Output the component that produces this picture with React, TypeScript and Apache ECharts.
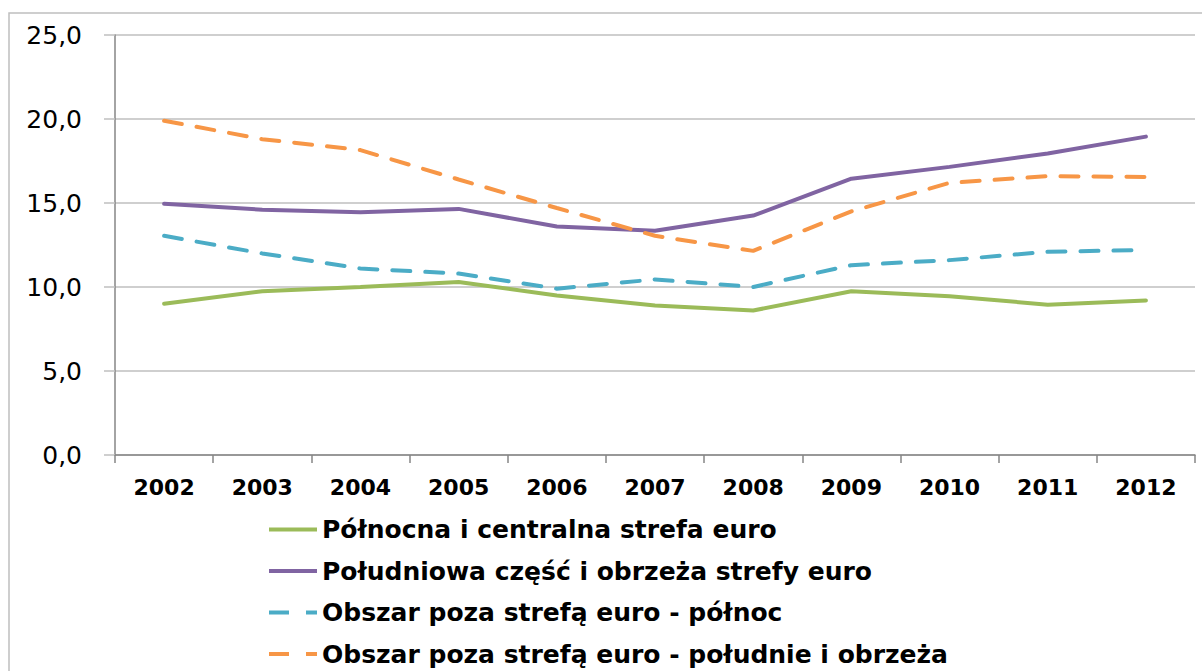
import React, { useEffect, useRef } from "react";
import * as echarts from "echarts";

const years = ["2002", "2003", "2004", "2005", "2006", "2007", "2008", "2009", "2010", "2011", "2012"];
const seriesNames = [
  "Północna i centralna strefa euro",
  "Południowa część i obrzeża strefy euro",
  "Obszar poza strefą euro - północ",
  "Obszar poza strefą euro - południe i obrzeża",
];
const northCentral = [9.0, 9.75, 10.0, 10.3, 9.5, 8.9, 8.6, 9.75, 9.45, 8.95, 9.2];
const southPeriphery = [14.95, 14.6, 14.45, 14.65, 13.6, 13.35, 14.25, 16.45, 17.15, 17.95, 18.95];
const outsideNorth = [13.05, 12.0, 11.1, 10.8, 9.9, 10.45, 10.0, 11.3, 11.6, 12.1, 12.2];
const outsideSouth = [19.9, 18.8, 18.15, 16.4, 14.7, 13.05, 12.15, 14.5, 16.2, 16.6, 16.55];
const colors = ["#9BBB59", "#8064A2", "#4BACC6", "#F79646"];
const dashed = [false, false, true, true];

const solidIcon = "path://M0,0h48v4h-48z";
const dashIcon = "path://M0,0h20v4h-20z M37,0h11v4h-11z";

export default function App() {
  const ref = useRef<HTMLDivElement>(null);
  useEffect(() => {
    if (!ref.current) return;
    const chart = echarts.init(ref.current, undefined, { renderer: "svg" });
    const data = [northCentral, southPeriphery, outsideNorth, outsideSouth];
    chart.setOption({
      animation: false,
      grid: { left: 115, right: 7, top: 35, bottom: 216, containLabel: false },
      graphic: [
        {
          type: "rect",
          shape: { x: 9, y: 13, width: 1200, height: 700 },
          style: { fill: "none", stroke: "#BFBFBF", lineWidth: 1.5 },
          silent: true,
        },
      ],
      legend: {
        orient: "vertical",
        left: 269,
        top: 516,
        itemWidth: 48,
        itemHeight: 14,
        itemGap: 14.5,
        padding: 0,
        data: seriesNames.map((name, i) => ({ name, icon: dashed[i] ? dashIcon : solidIcon })),
        textStyle: {
          fontFamily: "DejaVu Sans",
          fontWeight: "bold",
          fontSize: 25,
          color: "#000",
          lineHeight: 27,
        },
      },
      xAxis: {
        type: "category",
        data: years,
        boundaryGap: true,
        axisLine: { lineStyle: { color: "#868686", width: 1.5 } },
        axisTick: { show: true, length: 8, lineStyle: { color: "#868686", width: 1.5 } },
        axisLabel: {
          margin: 21,
          fontFamily: "DejaVu Sans",
          fontWeight: "bold",
          fontSize: 22,
          color: "#000",
        },
        splitLine: { show: false },
      },
      yAxis: {
        type: "value",
        min: 0,
        max: 25,
        interval: 5,
        axisLine: { show: true, lineStyle: { color: "#868686", width: 1.5 } },
        axisTick: { show: true, length: 11, lineStyle: { color: "#BFBFBF", width: 1.5 } },
        axisLabel: {
          margin: 33,
          fontFamily: "DejaVu Sans",
          fontSize: 25,
          color: "#000",
          formatter: (v: number) => v.toFixed(1).replace(".", ","),
        },
        splitLine: { show: true, lineStyle: { color: "#BFBFBF", width: 1.5 } },
      },
      series: seriesNames.map((name, i) => ({
        name,
        type: "line",
        data: data[i],
        symbol: "none",
        showSymbol: false,
        itemStyle: { color: colors[i] },
        lineStyle: {
          color: colors[i],
          width: 4,
          type: dashed[i] ? [18, 15] : "solid",
          cap: "round",
        },
      })),
    });
    return () => chart.dispose();
  }, []);
  return <div ref={ref} style={{ width: 1202, height: 671, position: "absolute", left: 0, top: 0 }} />;
}
